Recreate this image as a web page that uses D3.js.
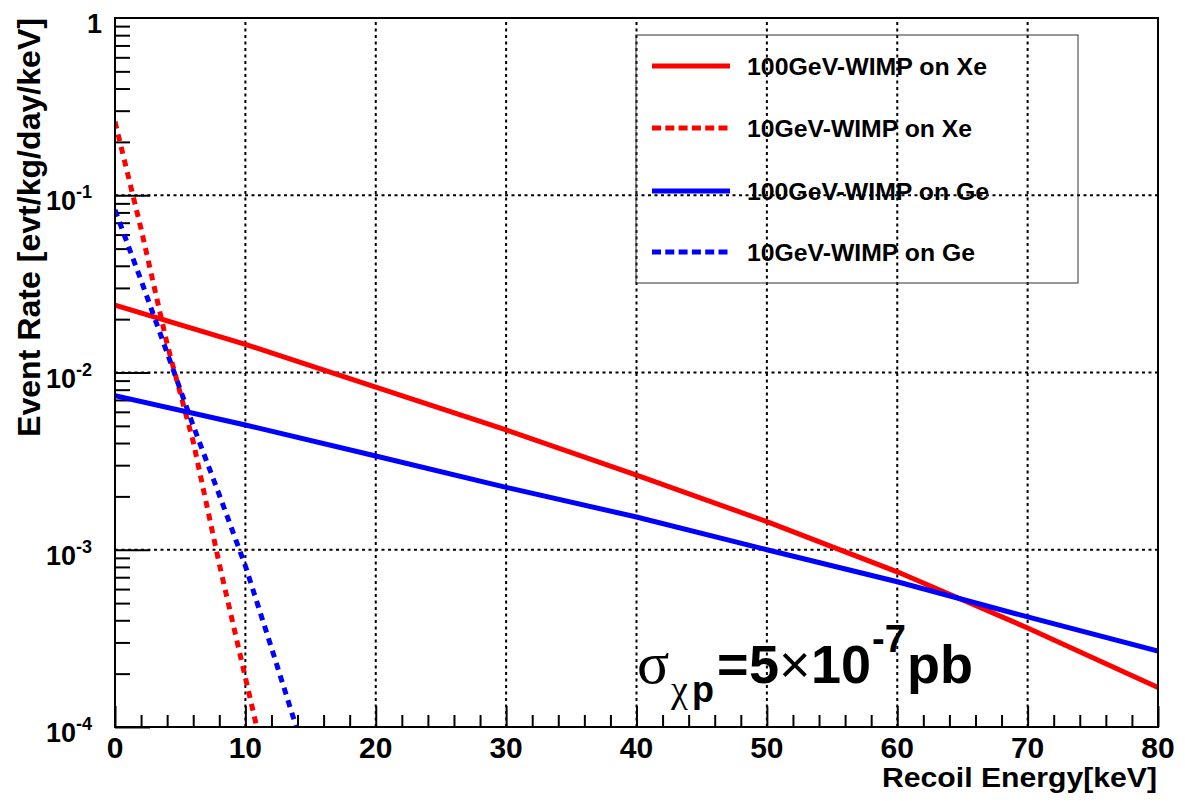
<!DOCTYPE html>
<html>
<head>
<meta charset="utf-8">
<script src="https://cdn.jsdelivr.net/npm/d3@7"></script>
<style>
  body { margin: 0; background: #fff; }
  svg { display: block; font-family: "Liberation Sans", Arial, sans-serif; }
</style>
</head>
<body>
<svg width="1185" height="801"></svg>
<script>
// recoil energy points (keV) and rates (evt/kg/day/keV)
const energyHeavy = [0, 10, 20, 30, 40, 50, 60, 70, 80];
const rateXe100 = [0.0240, 0.01442, 0.00828, 0.00474, 0.00264, 0.00144, 7.51e-4, 3.62e-4, 1.67e-4];
const rateGe100 = [0.00740, 0.00506, 0.00338, 0.00225, 0.00153, 0.00100, 6.60e-4, 4.18e-4, 2.68e-4];

const energyXe10 = [0, 2, 4, 6, 8, 10, 11];
const rateXe10 = [0.260, 0.0646, 0.01445, 0.00407, 8.3e-4, 1.9e-4, 9.1e-5];

const energyGe10 = [0, 2, 4, 6, 8, 10, 12, 14];
const rateGe10 = [0.0826, 0.0331, 0.0129, 0.00501, 0.00204, 8.1e-4, 2.8e-4, 9.5e-5];

const seriesNames = ['100GeV-WIMP on Xe', '10GeV-WIMP on Xe', '100GeV-WIMP on Ge', '10GeV-WIMP on Ge'];

// axis ticks
const xMajor = [0, 10, 20, 30, 40, 50, 60, 70, 80];
const yDecades = [1e-4, 1e-3, 1e-2, 1e-1, 1];
const yExponents = ['-4', '-3', '-2', '-1', ''];

//frame of the plot in page pixels
const frame = { left: 115, right: 1158, top: 18, bottom: 727 };

const svg = d3.select('svg');
svg.append('rect').attr('width', 1185).attr('height', 801).attr('fill', '#fff');

const x = d3.scaleLinear().domain([0, 80]).range([frame.left, frame.right]);
const y = d3.scaleLog().domain([1e-4, 1]).range([frame.bottom, frame.top]);

// series table for drawing
const series = [
  { name: seriesNames[0], xs: energyHeavy, ys: rateXe100, color: '#ff0000', dash: null },
  { name: seriesNames[1], xs: energyXe10, ys: rateXe10, color: '#ff0000', dash: '7,6' },
  { name: seriesNames[2], xs: energyHeavy, ys: rateGe100, color: '#0000ff', dash: null },
  { name: seriesNames[3], xs: energyGe10, ys: rateGe10, color: '#0000ff', dash: '7,6' }
];

svg.append('clipPath').attr('id', 'plotclip')
  .append('rect')
  .attr('x', frame.left).attr('y', frame.top)
  .attr('width', frame.right - frame.left).attr('height', frame.bottom - frame.top);

// grid (dotted)
const grid = svg.append('g')
  .attr('stroke', '#000').attr('stroke-width', 2).attr('stroke-dasharray', '3,3.5');
grid.selectAll('line.gx')
  .data(xMajor.slice(1, -1))
  .enter().append('line')
  .attr('x1', d => x(d)).attr('x2', d => x(d))
  .attr('y1', frame.bottom).attr('y2', frame.top);
grid.selectAll('line.gy')
  .data(yDecades.slice(1, -1))
  .enter().append('line')
  .attr('y1', d => y(d)).attr('y2', d => y(d))
  .attr('x1', frame.left).attr('x2', frame.right);

// minor y ticks: 2..9 in each decade
const yMinor = [];
yDecades.slice(0, -1).forEach(dec => {
  for (let k = 2; k <= 9; k++) yMinor.push(dec * k);
});
const xMinor = d3.range(0, 81, 2).filter(v => v % 10 !== 0);

// y axis ticks (inward)
svg.append('g')
  .attr('transform', 'translate(' + frame.left + ',0)')
  .call(d3.axisLeft(y).tickValues(yDecades.slice(0, -1)).tickSize(-35).tickFormat(''))
  .call(g => g.select('.domain').remove());
svg.append('g')
  .attr('transform', 'translate(' + frame.left + ',0)')
  .call(d3.axisLeft(y).tickValues(yMinor).tickSize(-15).tickFormat(''))
  .call(g => g.select('.domain').remove());

// x axis ticks (inward)
svg.append('g')
  .attr('transform', 'translate(0,' + frame.bottom + ')')
  .call(d3.axisBottom(x).tickValues(xMajor).tickSize(-21).tickFormat(''))
  .call(g => g.select('.domain').remove());
svg.append('g')
  .attr('transform', 'translate(0,' + frame.bottom + ')')
  .call(d3.axisBottom(x).tickValues(xMinor).tickSize(-12).tickFormat(''))
  .call(g => g.select('.domain').remove());

svg.selectAll('.tick line').attr('stroke', '#000').attr('stroke-width', 2);

// curves
const line = d3.line().x(d => x(d[0])).y(d => y(d[1]));
const curves = svg.append('g').attr('clip-path', 'url(#plotclip)');
series.forEach(s => {
  curves.append('path')
    .datum(s.xs.map((v, i) => [v, s.ys[i]]))
    .attr('d', line)
    .attr('fill', 'none')
    .attr('stroke', s.color)
    .attr('stroke-width', 5)
    .attr('stroke-dasharray', s.dash);
});

// frame box
svg.append('rect')
  .attr('x', frame.left).attr('y', frame.top)
  .attr('width', frame.right - frame.left).attr('height', frame.bottom - frame.top)
  .attr('fill', 'none').attr('stroke', '#000').attr('stroke-width', 2);

// x tick labels
svg.append('g').selectAll('text')
  .data(xMajor)
  .enter().append('text')
  .attr('x', d => x(d))
  .attr('y', frame.bottom + 31)
  .attr('text-anchor', 'middle')
  .attr('font-weight', 'bold')
  .attr('font-size', 30)
  .text(d => d);

// y tick labels with exponents
const ylab = svg.append('g').selectAll('text')
  .data(yDecades)
  .enter().append('text')
  .attr('y', d => y(d) + 15)
  .attr('font-weight', 'bold')
  .attr('font-size', 27)
  .attr('text-anchor', 'end');
ylab.each(function (d, i) {
  const t = d3.select(this);
  if (yExponents[i] === '') {
    t.attr('x', 102).text('1');
  } else {
    t.attr('x', 92);
    t.append('tspan').text('10');
    t.append('tspan').attr('font-size', 18).attr('dy', -12).text(yExponents[i]);
  }
});

// axis titles
svg.append('text')
  .attr('x', 1157)
  .attr('y', 787)
  .attr('text-anchor', 'end')
  .attr('font-weight', 'bold')
  .attr('font-size', 27)
  .attr('textLength', 275)
  .attr('lengthAdjust', 'spacingAndGlyphs')
  .text('Recoil Energy[keV]');

svg.append('text')
  .attr('transform', 'translate(40,18) rotate(-90)')
  .attr('text-anchor', 'end')
  .attr('font-weight', 'bold')
  .attr('font-size', 31)
  .attr('textLength', 419)
  .attr('lengthAdjust', 'spacingAndGlyphs')
  .text('Event Rate [evt/kg/day/keV]');

// legend
const legend = svg.append('g');
legend.append('rect')
  .attr('x', 636).attr('y', 35).attr('width', 442).attr('height', 248)
  .attr('fill', 'none').attr('stroke', '#333').attr('stroke-width', 1);
const legendY = [66, 128, 191, 252];
const legendTextW = [240, 225, 242, 228];
series.forEach((s, i) => {
  legend.append('line')
    .attr('x1', 652).attr('x2', 730)
    .attr('y1', legendY[i]).attr('y2', legendY[i])
    .attr('stroke', s.color).attr('stroke-width', 5)
    .attr('stroke-dasharray', s.dash ? '9,4.3' : null);
  legend.append('text')
    .attr('x', 747).attr('y', legendY[i] + 9)
    .attr('font-weight', 'bold')
    .attr('font-size', 23)
    .attr('textLength', legendTextW[i])
    .attr('lengthAdjust', 'spacingAndGlyphs')
    .text(s.name);
});

// cross-section annotation
const ann = svg.append('text').attr('y', 683).attr('font-size', 54).attr('font-weight', 'bold');
ann.append('tspan').attr('x', 637).attr('font-family', 'Liberation Serif, serif').attr('font-weight', 'normal').attr('font-size', 60).text('σ');
ann.append('tspan').attr('x', 671).attr('dy', 19).attr('font-size', 38).attr('font-family', 'Liberation Serif, serif').attr('font-weight', 'normal').text('χ');
ann.append('tspan').attr('x', 692).attr('font-size', 36).text('p');
ann.append('tspan').attr('x', 717).attr('dy', -19).text('=');
ann.append('tspan').attr('x', 749).text('5');
ann.append('tspan').attr('x', 779).attr('font-weight', 'normal').text('×');
ann.append('tspan').attr('x', 811).text('10');
ann.append('tspan').attr('x', 872).attr('dy', -31).attr('font-size', 38).text('-7');
ann.append('tspan').attr('x', 907).attr('dy', 31).text('pb');
</script>
</body>
</html>
